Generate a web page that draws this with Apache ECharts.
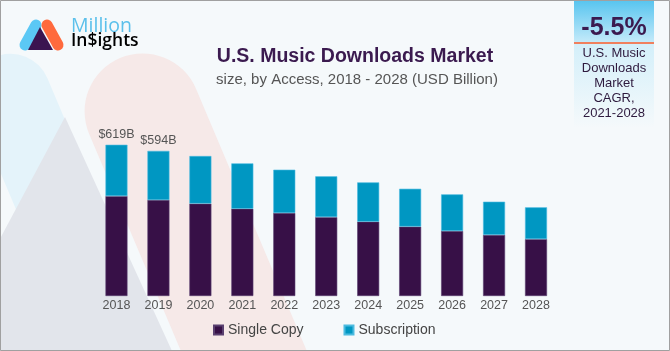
<!DOCTYPE html>
<html>
<head>
<meta charset="utf-8">
<script src="https://cdn.jsdelivr.net/npm/echarts@6/dist/echarts.min.js"></script>
<style>
  html, body { margin: 0; padding: 0; background: #f5f9fb; }
  #main { width: 670px; height: 351px; }
</style>
</head>
<body>
<div id="main"></div>
<script>
// data (USD Billion)
var years = ['2018', '2019', '2020', '2021', '2022', '2023', '2024', '2025', '2026', '2027', '2028'];
var singleCopy = [409, 393, 378, 357, 340, 323, 304, 284, 266, 250, 233];
var subscription = [210, 201, 195, 186, 177, 167, 161, 155, 150, 136, 130];
var totalLabels = ['$619B', '$594B'];

var FONT = '"Liberation Sans", Arial, sans-serif';

var chart = echarts.init(document.getElementById('main'));

// only the first two bars carry a total label
var subData = subscription.map(function (v, i) {
    var item = { value: v };
    if (totalLabels[i]) {
        item.label = { show: true, formatter: totalLabels[i] };
    }
    return item;
});

var option = {
    backgroundColor: '#f5f9fb',
    animation: false,
    grid: { left: 95.5, right: 113, top: 125, bottom: 55 },
    legend: {
        left: 213,
        top: 323,
        padding: 0,
        icon: 'rect',
        itemWidth: 9,
        itemHeight: 9,
        itemGap: 40,
        textStyle: { fontFamily: FONT, fontSize: 14, color: '#444' },
        data: ['Single Copy', 'Subscription']
    },
    xAxis: {
        type: 'category',
        data: years,
        axisLine: { show: false },
        axisTick: { show: false },
        axisLabel: { margin: 3, fontFamily: FONT, fontSize: 12.5, color: '#555' }
    },
    yAxis: {
        type: 'value',
        min: 0,
        max: 700,
        show: false
    },
    series: [
        {
            name: 'Single Copy',
            type: 'bar',
            stack: 'total',
            barWidth: 22,
            itemStyle: { color: '#371047', borderColor: '#5a4070', borderWidth: 0.6 },
            data: singleCopy
        },
        {
            name: 'Subscription',
            type: 'bar',
            stack: 'total',
            barWidth: 22,
            itemStyle: { color: '#0097c2', borderColor: '#4cbbe0', borderWidth: 0.6 },
            label: {
                show: false,
                position: 'top',
                distance: 4,
                fontFamily: FONT,
                fontSize: 12.5,
                color: '#555'
            },
            data: subData
        }
    ],
    graphic: [
        // background decoration
        {
            type: 'rect', position: [-5, 57], rotation: 0.4, z: 0, silent: true,
            shape: { x: -40, y: 0, width: 80, height: 450, r: 40 },
            style: { fill: '#e4f3fa' }
        },
        {
            type: 'rect', position: [120, 58], rotation: 0.4, z: 0, silent: true,
            shape: { x: -58, y: 0, width: 116, height: 450, r: 58 },
            style: { fill: '#f6e9e8' }
        },
        {
            type: 'polygon', z: 0, silent: true,
            shape: { points: [[65, 117], [-60, 351], [172, 351]] },
            style: { fill: '#e2e5eb' }
        },
        // logo
        {
            type: 'line', z: 5,
            shape: { x1: 36, y1: 25, x2: 25, y2: 45 },
            style: { stroke: '#5bc8f5', lineWidth: 11, lineCap: 'round' }
        },
        {
            type: 'line', z: 5,
            shape: { x1: 47, y1: 25, x2: 58, y2: 45 },
            style: { stroke: '#ff6a3d', lineWidth: 11, lineCap: 'round' }
        },
        {
            type: 'polygon', z: 6,
            shape: { points: [[40, 27], [28, 50], [53, 50]] },
            style: { fill: '#3b1450' }
        },
        {
            type: 'text', z: 6, left: 71, top: 16,
            style: {
                text: 'Million',
                font: '500 19.5px "Open Sans", sans-serif',
                fill: '#5bc0eb'
            }
        },
        {
            type: 'text', z: 6, left: 71, top: 32,
            style: {
                text: '{a|In}{b|$}{a|ights}',
                rich: {
                    a: { fontFamily: '"Open Sans", sans-serif', fontWeight: 600, fontSize: 17.5, color: '#3b1a4f' },
                    b: { fontFamily: '"Open Sans", sans-serif', fontWeight: 600, fontSize: 17.5, color: '#ff6a3d' }
                }
            }
        },
        // title
        {
            type: 'text', z: 6,
            style: {
                text: 'U.S. Music Downloads Market',
                x: 355, y: 57,
                textAlign: 'center', textVerticalAlign: 'middle',
                font: 'bold 19.5px ' + FONT,
                fill: '#3b1a4f'
            }
        },
        {
            type: 'text', z: 6,
            style: {
                text: 'size, by Access, 2018 - 2028 (USD Billion)',
                x: 357, y: 79.5,
                textAlign: 'center', textVerticalAlign: 'middle',
                font: '15px ' + FONT,
                fill: '#555'
            }
        },
        // CAGR box
        {
            type: 'rect', z: 1,
            shape: { x: 574, y: 0, width: 80, height: 43 },
            style: {
                fill: new echarts.graphic.LinearGradient(0, 0, 0, 1, [
                    { offset: 0, color: '#56c4ef' },
                    { offset: 1, color: '#c6ebfa' }
                ])
            }
        },
        {
            type: 'rect', z: 1,
            shape: { x: 574, y: 43, width: 80, height: 85 },
            style: {
                fill: new echarts.graphic.LinearGradient(0, 0, 0, 1, [
                    { offset: 0, color: '#d3effa' },
                    { offset: 1, color: '#f5f9fb' }
                ])
            }
        },
        {
            type: 'rect', z: 2,
            shape: { x: 574, y: 42, width: 80, height: 2 },
            style: { fill: '#f0805e' }
        },
        {
            type: 'text', z: 6,
            style: {
                text: '-5.5%',
                x: 614, y: 28,
                textAlign: 'center', textVerticalAlign: 'middle',
                font: 'bold 25px ' + FONT,
                fill: '#3b1a4f'
            }
        },
        {
            type: 'text', z: 6,
            style: {
                text: 'U.S. Music\nDownloads\nMarket\nCAGR,\n2021-2028',
                x: 614, y: 46,
                textAlign: 'center',
                font: '13px ' + FONT,
                lineHeight: 15,
                fill: '#2e1a3e'
            }
        },
        // frame
        {
            type: 'rect', z: 10, silent: true,
            shape: { x: 0.5, y: 0.5, width: 669, height: 350 },
            style: { fill: 'none', stroke: '#a0a0a0', lineWidth: 1 }
        }
    ]
};

chart.setOption(option);
</script>
</body>
</html>
